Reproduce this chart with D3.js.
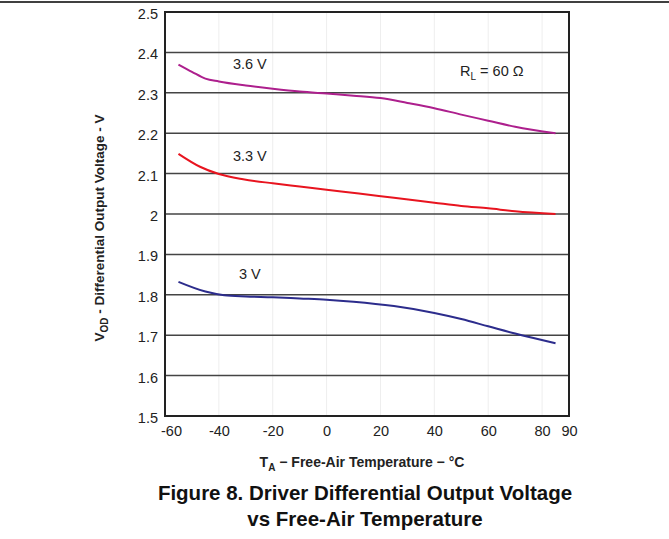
<!DOCTYPE html>
<html>
<head>
<meta charset="utf-8">
<script src="https://cdn.jsdelivr.net/npm/d3@7"></script>
<style>
  body { margin: 0; background: #fff; }
  svg { font-family: "Liberation Sans", Arial, sans-serif; }
</style>
</head>
<body>
<svg id="chart" width="669" height="539"></svg>
<script>
// DATA
var temps36 = [-55, -50, -45, -40, -30, -20, -10, 0, 10, 20, 30, 40, 50, 60, 70, 85];
var vod36   = [2.370, 2.352, 2.335, 2.328, 2.318, 2.310, 2.303, 2.298, 2.293, 2.287, 2.275, 2.262, 2.246, 2.231, 2.216, 2.200];

var temps33 = [-55, -47, -40, -31, -20, -10, 0, 12, 25, 40, 50, 60, 70, 85];
var vod33   = [2.149, 2.117, 2.099, 2.086, 2.076, 2.068, 2.060, 2.051, 2.040, 2.028, 2.020, 2.014, 2.007, 2.000];

var temps30 = [-55, -45, -38, -30, -20, -10, 0, 10, 25, 40, 50, 60, 70, 85];
var vod30   = [1.832, 1.808, 1.799, 1.796, 1.794, 1.791, 1.788, 1.783, 1.772, 1.755, 1.740, 1.722, 1.704, 1.680];

var xTicks = [-60, -40, -20, 0, 20, 40, 60, 80, 90];
var yTicks = [1.5, 1.6, 1.7, 1.8, 1.9, 2.0, 2.1, 2.2, 2.3, 2.4, 2.5];
var yTickLabels = ['1.5', '1.6', '1.7', '1.8', '1.9', '2', '2.1', '2.2', '2.3', '2.4', '2.5'];

var svg = d3.select('#chart');

// page rule at top
svg.append('line')
    .attr('x1', 0).attr('x2', 669)
    .attr('y1', 2).attr('y2', 2)
    .style('stroke', '#000')
    .style('stroke-width', '1.5px');

// SCALES
var x = d3.scaleLinear().domain([-60, 90]).range([165, 569]);
var y = d3.scaleLinear().domain([1.5, 2.5]).range([416, 12]);

// faint vertical gridlines
svg.append('g')
    .selectAll('line')
    .data(xTicks.slice(1, -1))
    .enter()
    .append('line')
    .attr('x1', function(d) { return x(d); })
    .attr('x2', function(d) { return x(d); })
    .attr('y1', y(2.5)).attr('y2', y(1.5))
    .style('stroke', '#eeeeee')
    .style('stroke-width', '1px');

// horizontal gridlines
svg.append('g')
    .selectAll('line')
    .data(yTicks.slice(1, -1))
    .enter()
    .append('line')
    .attr('x1', x(-60)).attr('x2', x(90))
    .attr('y1', function(d) { return y(d); })
    .attr('y2', function(d) { return y(d); })
    .style('stroke', '#444')
    .style('stroke-width', '1.5px');

// AXES (labels only, frame drawn below)
var xAxis = svg.append('g')
    .attr('transform', 'translate(0,' + y(1.5) + ')')
    .call(d3.axisBottom(x).tickValues(xTicks).tickSize(0).tickPadding(10)
        .tickFormat(function(d) { return String(d).replace('\u2212', '-'); }));
xAxis.select('.domain').remove();
xAxis.selectAll('text')
    .style('font-size', '14.5px')
    .style('fill', '#222')
    .attr('dx', function(d) { return d == -60 ? 6 : 0; });

var yAxis = svg.append('g')
    .attr('transform', 'translate(' + x(-60) + ',0)')
    .call(d3.axisLeft(y).tickValues(yTicks).tickSize(0).tickPadding(7)
        .tickFormat(function(d, i) { return yTickLabels[i]; }));
yAxis.select('.domain').remove();
yAxis.selectAll('text')
    .style('font-size', '14.5px')
    .style('fill', '#222')
    .attr('dy', '0.45em');

// plot frame
svg.append('rect')
    .attr('x', x(-60)).attr('y', y(2.5))
    .attr('width', x(90) - x(-60))
    .attr('height', y(1.5) - y(2.5))
    .style('fill', 'none')
    .style('stroke', '#222')
    .style('stroke-width', '2px');

// CURVES
var lineGen = d3.line()
    .x(function(d) { return x(d[0]); })
    .y(function(d) { return y(d[1]); })
    .curve(d3.curveMonotoneX);

var series = [
    { t: temps36, v: vod36, color: '#ad1f8d' },
    { t: temps33, v: vod33, color: '#e8141f' },
    { t: temps30, v: vod30, color: '#2c2c8c' }
];
series.forEach(function(s) {
    svg.append('path')
        .attr('d', lineGen(d3.zip(s.t, s.v)))
        .style('fill', 'none')
        .style('stroke', s.color)
        .style('stroke-width', '2px');
});

// curve labels
var curveLabels = [
    { text: '3.6 V', t: -28.5, v: 2.358 },
    { text: '3.3 V', t: -28.5, v: 2.132 },
    { text: '3 V',   t: -28.5, v: 1.838 }
];
svg.append('g')
    .selectAll('text')
    .data(curveLabels)
    .enter()
    .append('text')
    .attr('x', function(d) { return x(d.t); })
    .attr('y', function(d) { return y(d.v); })
    .attr('text-anchor', 'middle')
    .style('font-size', '14.5px')
    .style('fill', '#222')
    .text(function(d) { return d.text; });

// R_L annotation
var rl = svg.append('text')
    .attr('x', 460).attr('y', 76)
    .style('font-size', '14.5px')
    .style('fill', '#222');
rl.append('tspan').text('R');
rl.append('tspan').attr('dy', 4).style('font-size', '10px').text('L');
rl.append('tspan').attr('dy', -4).text(' = 60 \u03A9');

// x axis title
var xt = svg.append('text')
    .attr('x', 362).attr('y', 467)
    .attr('text-anchor', 'middle')
    .style('font-size', '14px')
    .style('font-weight', 'bold')
    .style('fill', '#222');
xt.append('tspan').text('T');
xt.append('tspan').attr('dy', 4).style('font-size', '10px').text('A');
xt.append('tspan').attr('dy', -4).text('  \u2212 Free-Air Temperature \u2212 \u00B0C');

// y axis title
var yt = svg.append('text')
    .attr('transform', 'translate(104,228) rotate(-90)')
    .attr('text-anchor', 'middle')
    .style('font-size', '13.5px')
    .style('font-weight', 'bold')
    .style('fill', '#222');
yt.append('tspan').text('V');
yt.append('tspan').attr('dy', 4).style('font-size', '10px').text('OD');
yt.append('tspan').attr('dy', -4).text(' - Differential Output Voltage - V');

// caption
svg.append('text')
    .attr('x', 365).attr('y', 500)
    .attr('text-anchor', 'middle')
    .style('font-size', '20.5px')
    .style('font-weight', 'bold')
    .style('fill', '#111')
    .text('Figure 8. Driver Differential Output Voltage');
svg.append('text')
    .attr('x', 365).attr('y', 526)
    .attr('text-anchor', 'middle')
    .style('font-size', '20.5px')
    .style('font-weight', 'bold')
    .style('fill', '#111')
    .text('vs Free-Air Temperature');
</script>
</body>
</html>
